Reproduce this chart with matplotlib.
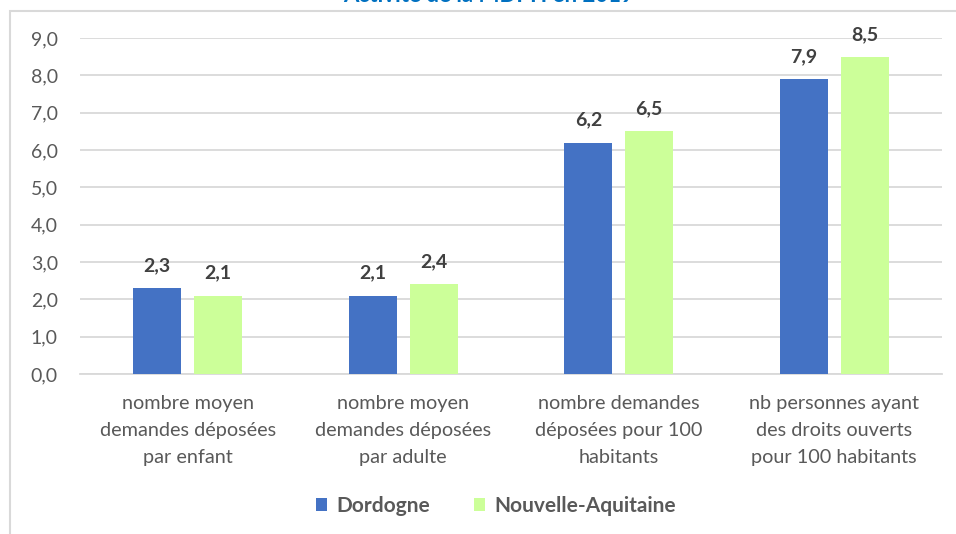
import matplotlib
matplotlib.use("Agg")
import matplotlib.pyplot as plt
from matplotlib.patches import Rectangle

categories = ["nombre moyen\ndemandes déposées\npar enfant",
              "nombre moyen\ndemandes déposées\npar adulte",
              "nombre demandes\ndéposées pour 100\nhabitants",
              "nb personnes ayant\ndes droits ouverts\npour 100 habitants"]
series_names = ["Dordogne", "Nouvelle-Aquitaine"]
dordogne = [2.3, 2.1, 6.2, 7.9]
nouvelle_aquitaine = [2.1, 2.4, 6.5, 8.5]
yticks = [0, 1, 2, 3, 4, 5, 6, 7, 8, 9]
title = "Activité de la MDPH en 2019"

plt.rcParams['font.family'] = ['Lato', 'DejaVu Sans']
W, H = 956, 534
fig = plt.figure(figsize=(W/100, H/100), dpi=100)

# outer frame
fig.add_artist(Rectangle((10/W, -0.1), 1.2, (H-11)/H + 0.1, transform=fig.transFigure,
                         fill=False, edgecolor="#D9D9D9", linewidth=1.5))
fig.text(489/W, 1 - 2/H, title, ha="center", va="baseline", color="#0070C0",
         fontsize=16, fontweight="bold")

ax = fig.add_axes([80/W, 1 - 374/H, 862/W, 336/H])
blue = "#4472C4"
green = "#CCFF99"
w = 0.223
off = 0.1415
xs = range(len(categories))
ax.bar([x - off for x in xs], dordogne, width=w, color=blue, label=series_names[0], zorder=3)
ax.bar([x + off for x in xs], nouvelle_aquitaine, width=w, color=green, label=series_names[1], zorder=3)

for x, v in zip(xs, dordogne):
    ax.annotate(f"{v:.1f}".replace(".", ","), (x - off, v), xytext=(0, 10), textcoords="offset points",
                ha="center", va="bottom", fontsize=14, fontweight="bold", color="#404040")
for x, v in zip(xs, nouvelle_aquitaine):
    ax.annotate(f"{v:.1f}".replace(".", ","), (x + off, v), xytext=(0, 10), textcoords="offset points",
                ha="center", va="bottom", fontsize=14, fontweight="bold", color="#404040")

ax.set_xlim(-0.5, 3.5)
ax.set_ylim(0, 9)
ax.set_yticks(yticks)
ax.set_yticklabels([f"{t:.1f}".replace(".", ",") for t in yticks])
ax.set_xticks(list(xs))
ax.set_xticklabels(categories, linespacing=1.72)
ax.tick_params(axis="y", length=0, pad=16, labelsize=14, labelcolor="#595959")
ax.tick_params(axis="x", length=0, pad=15, labelsize=14.3, labelcolor="#595959")
ax.grid(axis="y", color="#D9D9D9", linewidth=1.3, zorder=0)
for s in ["top", "right", "left"]:
    ax.spines[s].set_visible(False)
ax.spines["bottom"].set_color("#D9D9D9")
ax.spines["bottom"].set_linewidth(1.3)

leg = fig.legend(loc="center", bbox_to_anchor=(496/W, 1 - 506/H), ncol=2, frameon=False,
                 handlelength=0.55, handleheight=0.55, columnspacing=2.1, handletextpad=0.45,
                 prop={"size": 15, "weight": "bold"})
for t in leg.get_texts():
    t.set_color("#595959")

fig.savefig("out.png", dpi=100)
